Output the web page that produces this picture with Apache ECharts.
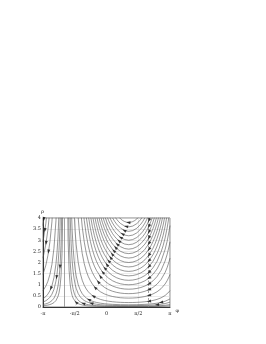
<!DOCTYPE html>
<html><head><meta charset="utf-8">
<script src="https://cdn.jsdelivr.net/npm/echarts@6/dist/echarts.min.js"></script>
<style>html,body{margin:0;padding:0;background:#fff}#c{width:266px;height:344px}</style>
</head><body><div id="c"></div>
<script>
// ---- tick labels ----
const phiTickLabels = ['-π', '-π/2', '0', 'π/2', 'π'];
const rhoTicks = [0, 0.5, 1, 1.5, 2, 2.5, 3, 3.5, 4];
// vertical reference lines (solid, dashed)
const guidePhi = [-2.0944, 2.0944];

// ---- trajectories, main part (φ, ρ) ----
const traj01 = [[-2.0,34.7],[-1.95,7.17],[-1.9,3.0],[-1.85,1.64],[-1.8,1.035],[-1.75,0.711],[-1.7,0.519],[-1.65,0.396],[-1.6,0.313],[-1.55,0.253],[-1.5,0.21],[-1.4,0.151],[-1.3,0.114],[-1.2,0.09],[-1.1,0.073],[-1.0,0.061],[-0.9,0.051],[-0.7,0.039],[-0.5,0.031],[-0.1,0.022],[0.5,0.016],[1.1,0.015],[1.7,0.016],[2.3,0.022],[2.7,0.031],[2.9,0.039],[3.1,0.051],[3.1416,0.055]];
const traj02 = [[-1.9,5.99],[-1.85,3.28],[-1.8,2.07],[-1.75,1.422],[-1.7,1.038],[-1.65,0.792],[-1.6,0.626],[-1.55,0.507],[-1.5,0.419],[-1.4,0.302],[-1.3,0.228],[-1.2,0.18],[-1.1,0.146],[-1.0,0.121],[-0.9,0.103],[-0.7,0.078],[-0.5,0.062],[-0.1,0.044],[0.5,0.033],[1.1,0.03],[1.7,0.033],[2.3,0.044],[2.7,0.062],[2.9,0.078],[3.1,0.103],[3.1416,0.11]];
const traj03 = [[-1.8,4.14],[-1.75,2.844],[-1.7,2.076],[-1.65,1.584],[-1.6,1.252],[-1.55,1.014],[-1.5,0.839],[-1.4,0.603],[-1.3,0.457],[-1.2,0.36],[-1.1,0.292],[-1.0,0.242],[-0.9,0.206],[-0.8,0.177],[-0.7,0.155],[-0.5,0.124],[-0.3,0.103],[-0.1,0.088],[0.3,0.071],[0.7,0.062],[1.1,0.06],[1.5,0.062],[1.9,0.071],[2.3,0.088],[2.5,0.103],[2.7,0.124],[2.9,0.155],[3.1,0.206],[3.1416,0.22]];
const traj04 = [[-1.75,4.74],[-1.7,3.46],[-1.65,2.64],[-1.6,2.086],[-1.55,1.689],[-1.5,1.398],[-1.4,1.006],[-1.3,0.762],[-1.2,0.599],[-1.1,0.486],[-1.0,0.404],[-0.9,0.343],[-0.8,0.296],[-0.7,0.259],[-0.6,0.23],[-0.5,0.206],[-0.3,0.171],[-0.1,0.147],[0.1,0.13],[0.3,0.118],[0.7,0.104],[1.1,0.1],[1.5,0.104],[1.9,0.118],[2.1,0.13],[2.3,0.147],[2.5,0.171],[2.7,0.206],[2.9,0.259],[3.1,0.343],[3.1416,0.366]];
const traj05 = [[-1.6,4.17],[-1.55,3.378],[-1.5,2.796],[-1.4,2.011],[-1.3,1.523],[-1.2,1.199],[-1.1,0.972],[-1.0,0.808],[-0.9,0.685],[-0.8,0.591],[-0.7,0.518],[-0.6,0.459],[-0.5,0.412],[-0.3,0.342],[-0.1,0.294],[0.1,0.26],[0.3,0.236],[0.5,0.219],[0.7,0.208],[0.9,0.202],[1.1,0.2],[1.3,0.202],[1.5,0.208],[1.7,0.219],[1.9,0.236],[2.1,0.26],[2.3,0.294],[2.5,0.342],[2.7,0.412],[2.9,0.518],[3.1,0.685],[3.1416,0.732]];
const traj06 = [[-1.4,4.02],[-1.35,3.48],[-1.3,3.046],[-1.2,2.398],[-1.1,1.944],[-1.0,1.615],[-0.9,1.37],[-0.8,1.182],[-0.7,1.035],[-0.6,0.918],[-0.5,0.824],[-0.3,0.684],[-0.1,0.587],[0.1,0.519],[0.3,0.471],[0.5,0.438],[0.7,0.416],[0.9,0.404],[1.1,0.4],[1.3,0.404],[1.5,0.416],[1.7,0.438],[1.9,0.471],[2.1,0.519],[2.3,0.587],[2.5,0.684],[2.7,0.824],[2.9,1.035],[3.0,1.182],[3.1,1.37],[3.1416,1.464]];
const traj07 = [[-1.3,4.57],[-1.2,3.596],[-1.1,2.916],[-1.0,2.423],[-0.9,2.056],[-0.8,1.773],[-0.7,1.553],[-0.6,1.378],[-0.5,1.236],[-0.3,1.026],[-0.1,0.881],[0.1,0.779],[0.3,0.707],[0.5,0.658],[0.7,0.625],[0.9,0.606],[1.1,0.6],[1.3,0.606],[1.5,0.625],[1.7,0.658],[1.9,0.707],[2.1,0.779],[2.3,0.881],[2.5,1.026],[2.7,1.236],[2.9,1.553],[3.0,1.773],[3.1,2.056],[3.1416,2.196]];
const traj08 = [[-1.2,4.8],[-1.1,3.888],[-1.0,3.231],[-0.9,2.741],[-0.8,2.364],[-0.7,2.07],[-0.6,1.837],[-0.5,1.648],[-0.3,1.368],[-0.1,1.174],[0.1,1.038],[0.3,0.942],[0.5,0.877],[0.7,0.833],[0.9,0.808],[1.1,0.8],[1.3,0.808],[1.5,0.833],[1.7,0.877],[1.9,0.942],[2.1,1.038],[2.3,1.174],[2.5,1.368],[2.7,1.648],[2.9,2.07],[3.0,2.364],[3.1,2.741],[3.1416,2.928]];
const traj09 = [[-1.0,4.039],[-0.9,3.426],[-0.8,2.955],[-0.7,2.588],[-0.6,2.296],[-0.5,2.06],[-0.4,1.868],[-0.3,1.71],[-0.2,1.578],[-0.1,1.468],[0.1,1.298],[0.3,1.178],[0.5,1.096],[0.7,1.041],[0.9,1.01],[1.1,1.0],[1.3,1.01],[1.5,1.041],[1.7,1.096],[1.9,1.178],[2.1,1.298],[2.3,1.468],[2.5,1.71],[2.7,2.06],[2.9,2.588],[3.0,2.955],[3.1,3.426],[3.1416,3.66]];
const traj10 = [[-0.9,4.111],[-0.8,3.547],[-0.7,3.106],[-0.6,2.755],[-0.5,2.472],[-0.4,2.242],[-0.3,2.052],[-0.2,1.894],[-0.1,1.762],[0.1,1.558],[0.3,1.414],[0.5,1.315],[0.7,1.249],[0.9,1.212],[1.1,1.2],[1.3,1.212],[1.5,1.249],[1.7,1.315],[1.9,1.414],[2.1,1.558],[2.3,1.762],[2.5,2.052],[2.7,2.472],[2.8,2.755],[2.9,3.106],[3.0,3.547],[3.1,4.111]];
const traj11 = [[-0.8,4.138],[-0.7,3.623],[-0.6,3.214],[-0.5,2.884],[-0.4,2.615],[-0.3,2.394],[-0.2,2.209],[-0.1,2.055],[0.1,1.817],[0.3,1.649],[0.5,1.534],[0.7,1.458],[0.9,1.414],[1.1,1.4],[1.3,1.414],[1.5,1.458],[1.7,1.534],[1.9,1.649],[2.1,1.817],[2.3,2.055],[2.5,2.394],[2.6,2.615],[2.7,2.884],[2.8,3.214],[2.9,3.623],[3.0,4.138]];
const traj12 = [[-0.7,4.141],[-0.6,3.674],[-0.5,3.296],[-0.4,2.989],[-0.3,2.736],[-0.2,2.525],[-0.1,2.349],[0.1,2.077],[0.3,1.885],[0.5,1.754],[0.7,1.666],[0.9,1.616],[1.1,1.6],[1.3,1.616],[1.5,1.666],[1.7,1.754],[1.9,1.885],[2.1,2.077],[2.3,2.349],[2.4,2.525],[2.5,2.736],[2.6,2.989],[2.7,3.296],[2.8,3.674],[2.9,4.141]];
const traj13 = [[-0.6,4.133],[-0.5,3.708],[-0.4,3.362],[-0.3,3.078],[-0.2,2.84],[-0.1,2.642],[0.1,2.336],[0.3,2.12],[0.5,1.973],[0.7,1.874],[0.9,1.818],[1.1,1.8],[1.3,1.818],[1.5,1.874],[1.7,1.973],[1.9,2.12],[2.1,2.336],[2.3,2.642],[2.4,2.84],[2.5,3.078],[2.6,3.362],[2.7,3.708],[2.8,4.133]];
const traj14 = [[-0.5,4.12],[-0.4,3.736],[-0.3,3.42],[-0.2,3.156],[-0.1,2.936],[0.0,2.752],[0.1,2.596],[0.3,2.356],[0.5,2.192],[0.7,2.082],[0.9,2.02],[1.1,2.0],[1.3,2.02],[1.5,2.082],[1.7,2.192],[1.9,2.356],[2.1,2.596],[2.2,2.752],[2.3,2.936],[2.4,3.156],[2.5,3.42],[2.6,3.736],[2.7,4.12]];
const traj15 = [[-0.4,4.11],[-0.3,3.762],[-0.2,3.472],[-0.1,3.23],[0.0,3.027],[0.1,2.856],[0.3,2.592],[0.5,2.411],[0.7,2.291],[0.9,2.222],[1.1,2.2],[1.3,2.222],[1.5,2.291],[1.7,2.411],[1.9,2.592],[2.1,2.856],[2.2,3.027],[2.3,3.23],[2.4,3.472],[2.5,3.762],[2.6,4.11]];
const traj16 = [[-0.3,4.104],[-0.2,3.787],[-0.1,3.523],[0.0,3.302],[0.1,3.115],[0.2,2.96],[0.3,2.827],[0.5,2.63],[0.7,2.499],[0.9,2.424],[1.1,2.4],[1.3,2.424],[1.5,2.499],[1.7,2.63],[1.9,2.827],[2.0,2.96],[2.1,3.115],[2.2,3.302],[2.3,3.523],[2.4,3.787],[2.5,4.104]];
const traj17 = [[-0.2,4.103],[-0.1,3.817],[0.0,3.578],[0.1,3.375],[0.2,3.207],[0.3,3.063],[0.5,2.85],[0.7,2.707],[0.9,2.627],[1.1,2.6],[1.3,2.627],[1.5,2.707],[1.7,2.85],[1.9,3.063],[2.0,3.207],[2.1,3.375],[2.2,3.578],[2.3,3.817],[2.4,4.103]];
const traj18 = [[-0.1,4.11],[0.0,3.853],[0.1,3.634],[0.2,3.453],[0.3,3.298],[0.4,3.173],[0.5,3.069],[0.7,2.915],[0.9,2.829],[1.1,2.8],[1.3,2.829],[1.5,2.915],[1.7,3.069],[1.8,3.173],[1.9,3.298],[2.0,3.453],[2.1,3.634],[2.2,3.853],[2.3,4.11]];
const traj19 = [[0.0,4.128],[0.1,3.894],[0.2,3.7],[0.3,3.534],[0.4,3.4],[0.5,3.288],[0.7,3.124],[0.9,3.031],[1.1,3.0],[1.3,3.031],[1.5,3.124],[1.7,3.288],[1.8,3.4],[1.9,3.534],[2.0,3.7],[2.1,3.894],[2.2,4.128]];
const traj20 = [[0.1,4.154],[0.2,3.947],[0.3,3.77],[0.4,3.626],[0.5,3.507],[0.7,3.332],[0.9,3.233],[1.1,3.2],[1.3,3.233],[1.5,3.332],[1.7,3.507],[1.8,3.626],[1.9,3.77],[2.0,3.947],[2.1,4.154]];
const traj21 = [[0.3,4.005],[0.4,3.853],[0.5,3.726],[0.7,3.54],[0.9,3.435],[1.1,3.4],[1.3,3.435],[1.5,3.54],[1.7,3.726],[1.8,3.853],[1.9,4.005]];
const traj22 = [[0.4,4.08],[0.5,3.946],[0.6,3.835],[0.7,3.748],[0.9,3.637],[1.1,3.6],[1.3,3.637],[1.5,3.748],[1.6,3.835],[1.7,3.946],[1.8,4.08]];
const traj23 = [[0.6,4.048],[0.7,3.957],[0.8,3.887],[0.9,3.839],[1.0,3.81],[1.1,3.8],[1.2,3.81],[1.3,3.839],[1.4,3.887],[1.5,3.957],[1.6,4.048]];

// ---- trajectories, part left of the solid line ----
const left01 = [[-3.1416,0.055],[-3.0,0.071],[-2.9,0.087],[-2.8,0.109],[-2.7,0.144],[-2.6,0.197],[-2.5,0.291],[-2.45,0.365],[-2.4,0.473],[-2.35,0.636],[-2.3,0.903],[-2.25,1.386],[-2.2,2.397],[-2.15,5.11]];
const left02 = [[-3.1416,0.11],[-3.0,0.141],[-2.9,0.173],[-2.8,0.219],[-2.7,0.287],[-2.6,0.395],[-2.5,0.581],[-2.45,0.73],[-2.4,0.945],[-2.35,1.271],[-2.3,1.806],[-2.25,2.772],[-2.2,4.79]];
const left03 = [[-3.1416,0.22],[-3.0,0.282],[-2.9,0.347],[-2.8,0.438],[-2.7,0.574],[-2.6,0.79],[-2.5,1.163],[-2.45,1.46],[-2.4,1.89],[-2.35,2.543],[-2.3,3.61],[-2.25,5.54]];
const left04 = [[-3.1416,0.366],[-3.0,0.47],[-2.9,0.578],[-2.8,0.729],[-2.7,0.957],[-2.6,1.317],[-2.5,1.938],[-2.45,2.434],[-2.4,3.15],[-2.35,4.24]];
const left05 = [[-3.1416,0.732],[-3.0,0.941],[-2.9,1.155],[-2.8,1.459],[-2.7,1.914],[-2.6,2.633],[-2.5,3.876],[-2.45,4.87]];
const left06 = [[-3.1416,1.464],[-3.0,1.882],[-2.9,2.31],[-2.8,2.918],[-2.7,3.828],[-2.6,5.27]];
const left07 = [[-3.1416,2.196],[-3.0,2.822],[-2.9,3.466],[-2.8,4.376]];
const left08 = [[-3.1416,2.928],[-3.0,3.763],[-2.9,4.621]];
const left09 = [[-3.1416,3.66],[-3.0,4.704]];

// ---- arrow heads (φ, ρ) ----
const arrowsLeftBranch = [[-1.5,0.21],[-1.15,0.162],[-0.75,0.166],[-0.87,0.33],[-0.65,0.49],[-0.56,0.87],[-0.41,1.13],[-0.3,1.37],[-0.18,1.56],[-0.08,1.74],[0.02,1.9],[0.11,2.07],[0.2,2.22],[0.28,2.37],[0.36,2.53],[0.45,2.67],[0.53,2.82],[0.62,2.97],[0.7,3.12],[0.79,3.28],[0.88,3.44],[0.97,3.62],[1.08,3.8]];
const arrowsRightBranch = [[2.1,0.26],[2.1,0.519],[2.1,0.779],[2.1,1.038],[2.1,1.298],[2.1,1.558],[2.1,1.817],[2.1,2.077],[2.1,2.336],[2.1,2.596],[2.1,2.856],[2.1,3.115],[2.1,3.375],[2.1,3.634],[2.1,3.894],[2.5,0.103],[2.7,0.206]];
const arrowsLeftRegion = [[-3.1,3.95],[-3.05,3.46],[-2.99,2.88],[-2.87,2.49],[-2.75,0.84],[-2.47,1.34],[-2.3,1.81]];

const mainTraj = [traj01,traj02,traj03,traj04,traj05,traj06,traj07,traj08,traj09,traj10,traj11,traj12,traj13,traj14,traj15,traj16,traj17,traj18,traj19,traj20,traj21,traj22,traj23];
const leftTraj = [left01,left02,left03,left04,left05,left06,left07,left08,left09];
const allTraj = mainTraj.concat(leftTraj);

const CURVE = '#505050';
const chart = echarts.init(document.getElementById('c'), null, {renderer: 'canvas'});
const lbl = {fontSize: 5, color: '#222', fontFamily: 'DejaVu Serif'};

const series = allTraj.map((d, i) => ({
  type: 'line', data: d, symbol: 'none', showSymbol: false, silent: true,
  animation: false, clip: true, z: 3,
  lineStyle: {color: CURVE, width: 0.6}
}));
series[0].markLine = {
  silent: true, symbol: 'none', animation: false, label: {show: false},
  data: [
    {xAxis: guidePhi[0], lineStyle: {color: '#8a8a8a', width: 0.8, type: 'solid'}},
    {xAxis: guidePhi[1], lineStyle: {color: '#8a8a8a', width: 0.8, type: [2, 1.5]}}
  ]
};
series.push({id: 'arrows', type: 'scatter', data: [], symbol: 'triangle', symbolSize: [3, 4.2],
  itemStyle: {color: '#111'}, silent: true, animation: false, z: 5});

chart.setOption({
  animation: false,
  backgroundColor: '#fff',
  grid: {left: 43, right: 96, top: 218, bottom: 37, show: true, borderColor: '#666', borderWidth: 0.8},
  xAxis: {
    type: 'value', min: -Math.PI, max: Math.PI, interval: Math.PI / 2,
    name: 'φ', nameLocation: 'end', nameGap: 2,
    nameTextStyle: {fontSize: 5, color: '#222', fontFamily: 'DejaVu Serif', verticalAlign: 'top', padding: [1, 0, 0, 0]},
    axisLine: {show: true, onZero: false, lineStyle: {color: '#222', width: 0.9}},
    axisTick: {show: false},
    splitLine: {show: true, lineStyle: {color: '#d6d6d6', width: 0.5}},
    axisLabel: Object.assign({margin: 4, formatter: v => phiTickLabels[Math.round(v / (Math.PI / 2)) + 2]}, lbl)
  },
  yAxis: {
    type: 'value', min: 0, max: 4, interval: 0.5,
    name: 'ρ', nameLocation: 'end', nameGap: 4,
    nameTextStyle: Object.assign({}, lbl, {align: 'left', padding: [0, 0, 0, -2]}),
    axisLine: {show: true, onZero: false, lineStyle: {color: '#222', width: 0.9}},
    axisTick: {show: false},
    splitLine: {show: true, lineStyle: {color: '#d6d6d6', width: 0.5}},
    axisLabel: Object.assign({margin: 2, formatter: v => String(rhoTicks[Math.round(v * 2)])}, lbl)
  },
  series: series
});

// orient each arrow head along its trajectory, pointing toward decreasing φ
function segDist(p, a, b) {
  const vx = b[0] - a[0], vy = b[1] - a[1];
  const L = vx * vx + vy * vy || 1;
  let t = ((p[0] - a[0]) * vx + (p[1] - a[1]) * vy) / L;
  t = Math.max(0, Math.min(1, t));
  const dx = p[0] - (a[0] + t * vx), dy = p[1] - (a[1] + t * vy);
  return dx * dx + dy * dy;
}
const pixTraj = allTraj.map(d => d.map(pt => chart.convertToPixel({gridIndex: 0}, pt)));
const arrowData = arrowsLeftBranch.concat(arrowsRightBranch, arrowsLeftRegion).map(pt => {
  const p = chart.convertToPixel({gridIndex: 0}, pt);
  let best = Infinity, dir = [-1, 0];
  pixTraj.forEach(tr => {
    for (let i = 0; i < tr.length - 1; i++) {
      const dd = segDist(p, tr[i], tr[i + 1]);
      if (dd < best) { best = dd; dir = [tr[i][0] - tr[i + 1][0], tr[i][1] - tr[i + 1][1]]; }
    }
  });
  const ang = Math.atan2(-dir[1], dir[0]) * 180 / Math.PI;
  return {value: pt, symbolRotate: ang - 90};
});
chart.setOption({series: [{id: 'arrows', data: arrowData}]});
</script></body></html>
